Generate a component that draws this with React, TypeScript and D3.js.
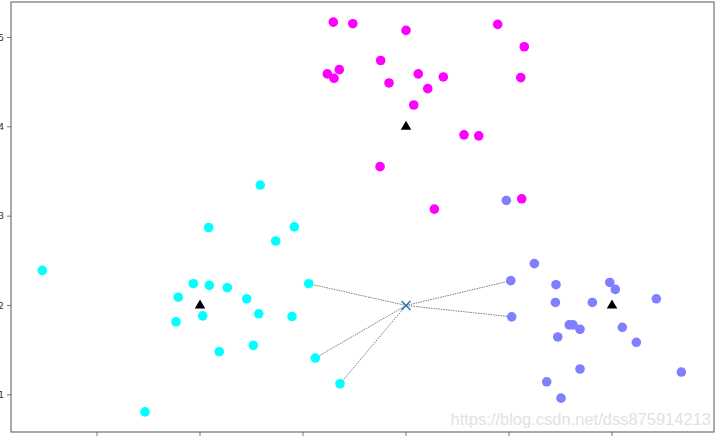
import * as d3 from "d3";
import { useEffect, useRef } from "react";

// cluster points: [x, y]
const cyanPoints: [number, number][] = [
  [1.585, 3.348], [1.084, 2.873], [1.916, 2.88], [1.735, 2.722], [-0.531, 2.393],
  [0.935, 2.244], [1.09, 2.225], [1.265, 2.199], [0.789, 2.093], [1.453, 2.075],
  [2.055, 2.244], [0.767, 1.817], [1.026, 1.884], [1.57, 1.907], [1.893, 1.876],
  [1.187, 1.483], [1.517, 1.554], [2.119, 1.412], [2.359, 1.124], [0.466, 0.809],
];

const magentaPoints: [number, number][] = [
  [2.294, 5.172], [2.483, 5.154], [3.0, 5.079], [3.89, 5.146], [4.148, 4.896],
  [2.754, 4.742], [2.236, 4.592], [2.352, 4.64], [2.301, 4.543], [3.119, 4.592],
  [3.362, 4.558], [4.114, 4.551], [2.835, 4.491], [3.211, 4.427], [3.075, 4.244],
  [3.563, 3.91], [3.706, 3.899], [2.748, 3.554], [3.275, 3.079], [4.123, 3.194],
];

const bluePoints: [number, number][] = [
  [3.974, 3.176], [4.246, 2.469], [4.017, 2.278], [4.456, 2.233], [4.978, 2.258],
  [5.032, 2.18], [5.43, 2.075], [4.45, 2.034], [4.809, 2.034], [4.026, 1.873],
  [4.585, 1.783], [4.621, 1.783], [4.689, 1.734], [4.473, 1.648], [5.1, 1.756],
  [5.236, 1.588], [4.689, 1.289], [5.673, 1.255], [4.366, 1.146], [4.505, 0.963],
];

const centers: [number, number][] = [[1, 2], [3, 4], [5, 2]];
const query: [number, number] = [3, 2];
const neighbours: [number, number][] = [
  [2.055, 2.244], [2.119, 1.412], [2.359, 1.124], [4.017, 2.278], [4.026, 1.873],
];

const xTicks = [0, 1, 2, 3, 4, 5];
const yTicks = [1, 2, 3, 4, 5];

const width = 723;
const height = 438;

export default function App() {
  const svgRef = useRef<SVGSVGElement>(null);

  useEffect(() => {
    document.body.style.margin = "0";
    if (!svgRef.current) return;
    const svg = d3.select(svgRef.current);
    svg.selectAll("*").remove();

    const left = 11, right = 714, top = 2, bottom = 432;
    const x = d3.scaleLinear().domain([-0.835, 5.99]).range([left, right]);
    const y = d3.scaleLinear().domain([0.584, 5.397]).range([bottom, top]);

    svg.append("rect").attr("width", width).attr("height", height).attr("fill", "#fff");

    // watermark
    svg.append("text")
      .attr("x", 711)
      .attr("y", 425)
      .attr("text-anchor", "end")
      .attr("font-family", "Liberation Sans, Arial, sans-serif")
      .attr("font-size", 16.5)
      .attr("fill", "#e2e2e2")
      .text("https://blog.csdn.net/dss875914213");

    // neighbour lines
    svg.append("g")
      .selectAll("line")
      .data(neighbours)
      .join("line")
      .attr("x1", x(query[0]))
      .attr("y1", y(query[1]))
      .attr("x2", (d) => x(d[0]))
      .attr("y2", (d) => y(d[1]))
      .attr("stroke", "#444")
      .attr("stroke-width", 0.7)
      .attr("stroke-dasharray", "1.5,1");

    const groups: [[number, number][], string][] = [
      [cyanPoints, "#00ffff"],
      [magentaPoints, "#ff00ff"],
      [bluePoints, "#7f7fff"],
    ];
    groups.forEach(([pts, color]) => {
      svg.append("g")
        .selectAll("circle")
        .data(pts)
        .join("circle")
        .attr("cx", (d) => x(d[0]))
        .attr("cy", (d) => y(d[1]))
        .attr("r", 4.8)
        .attr("fill", color);
    });

    // centroids
    const tri = d3.symbol().type(d3.symbolTriangle).size(48);
    svg.append("g")
      .selectAll("path")
      .data(centers)
      .join("path")
      .attr("d", tri)
      .attr("transform", (d) => `translate(${x(d[0])},${y(d[1])})`)
      .attr("fill", "#000");

    // query point marker
    const s = 4.5;
    const qx = x(query[0]), qy = y(query[1]);
    svg.append("path")
      .attr("d", `M${qx - s},${qy - s}L${qx + s},${qy + s}M${qx - s},${qy + s}L${qx + s},${qy - s}`)
      .attr("stroke", "#1f77b4")
      .attr("stroke-width", 1.4);

    // frame
    svg.append("rect")
      .attr("x", left)
      .attr("y", top)
      .attr("width", right - left)
      .attr("height", bottom - top)
      .attr("fill", "none")
      .attr("stroke", "#555")
      .attr("stroke-width", 1);

    // ticks
    const yAxis = svg.append("g");
    yTicks.forEach((t) => {
      yAxis.append("line")
        .attr("x1", left - 4).attr("x2", left)
        .attr("y1", y(t)).attr("y2", y(t))
        .attr("stroke", "#555").attr("stroke-width", 0.8);
      yAxis.append("text")
        .attr("x", 4)
        .attr("y", y(t))
        .attr("dy", "0.35em")
        .attr("text-anchor", "end")
        .attr("font-family", "DejaVu Sans, sans-serif")
        .attr("font-size", 9)
        .attr("fill", "#333")
        .text(t);
    });
    const xAxis = svg.append("g");
    xTicks.forEach((t) => {
      xAxis.append("line")
        .attr("x1", x(t)).attr("x2", x(t))
        .attr("y1", bottom).attr("y2", bottom + 4)
        .attr("stroke", "#555").attr("stroke-width", 0.8);
      xAxis.append("text")
        .attr("x", x(t))
        .attr("y", bottom + 13)
        .attr("text-anchor", "middle")
        .attr("font-family", "DejaVu Sans, sans-serif")
        .attr("font-size", 9)
        .attr("fill", "#333")
        .text(t);
    });
  }, []);

  return <svg ref={svgRef} width={width} height={height} style={{ display: "block" }} />;
}
